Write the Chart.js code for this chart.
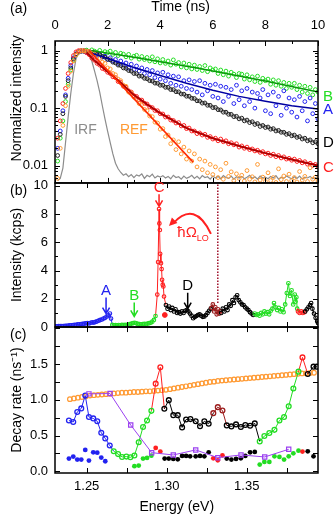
<!DOCTYPE html>
<html>
<head>
<meta charset="utf-8">
<script src="https://cdn.jsdelivr.net/npm/chart.js@4.4.1/dist/chart.umd.min.js"></script>
<style>
  html, body { margin: 0; padding: 0; background: #fff; }
  #wrap { position: relative; width: 335px; height: 516px; overflow: hidden; }
  .panel { position: absolute; left: 0; width: 335px; }
</style>
</head>
<body>
<div id="wrap">
  <div class="panel" style="top:0;height:190px"><canvas id="chartA"></canvas></div>
  <div class="panel" style="top:170px;height:170px"><canvas id="chartB"></canvas></div>
  <div class="panel" style="top:320px;height:196px"><canvas id="chartC"></canvas></div>
</div>
<script>
// ---- panel (a): time-resolved PL, normalized ----
const timeNs = [
  0.1,0.2,0.3,0.4,0.5,0.6,0.7,0.8,0.9,1.0,
  1.1,1.2,1.3,1.4,1.5,1.6,1.7,1.8,1.9,2.0,
  2.1,2.2,2.3,2.4,2.5,2.6,2.7,2.8,2.9,3.0,
  3.1,3.2,3.3,3.4,3.5,3.6,3.7,3.8,3.9,4.0,
  4.1,4.2,4.3,4.4,4.5,4.6,4.7,4.8,4.9,5.0,
  5.1,5.2,5.3,5.4,5.5,5.6,5.7,5.8,5.9,6.0,
  6.1,6.2,6.3,6.4,6.5,6.6,6.7,6.8,6.9,7.0,
  7.1,7.2,7.3,7.4,7.5,7.6,7.7,7.8,7.9,8.0,
  8.1,8.2,8.3,8.4,8.5,8.6,8.7,8.8,8.9,9.0,
  9.1,9.2,9.3,9.4,9.5,9.6,9.7,9.8,9.9,10.0
];
const decayA = [
  0.02,0.04,0.09,0.17,0.33,0.55,0.75,0.88,0.95,0.97,
  0.98,0.93,0.95,0.88,0.9,0.83,0.86,0.77,0.8,0.7,
  0.75,0.66,0.7,0.6,0.66,0.57,0.61,0.5,0.58,0.47,
  0.54,0.44,0.5,0.4,0.47,0.38,0.45,0.34,0.41,0.32,
  0.42,0.3,0.38,0.27,0.36,0.25,0.35,0.24,0.3,0.22,
  0.31,0.21,0.29,0.19,0.3,0.17,0.27,0.2,0.25,0.16,
  0.26,0.15,0.24,0.13,0.23,0.16,0.21,0.12,0.25,0.14,
  0.2,0.11,0.22,0.13,0.19,0.1,0.18,0.15,0.21,0.09,
  0.17,0.08,0.19,0.11,0.16,0.075,0.2,0.1,0.15,0.085,
  0.14,0.07,0.16,0.09,0.13,0.06,0.15,0.08,0.12,0.065
];
const decayB = [
  0.012,0.03,0.06,0.13,0.26,0.46,0.68,0.85,0.94,0.98,
  0.97,1.02,0.95,1.03,0.98,0.93,1.01,0.9,0.96,0.92,
  0.98,0.86,0.93,0.82,0.9,0.87,0.78,0.86,0.74,0.8,
  0.83,0.71,0.79,0.7,0.76,0.66,0.78,0.64,0.72,0.61,
  0.7,0.6,0.66,0.56,0.69,0.58,0.62,0.52,0.61,0.5,
  0.58,0.48,0.56,0.47,0.53,0.45,0.55,0.43,0.5,0.46,
  0.48,0.4,0.46,0.38,0.44,0.36,0.42,0.39,0.34,0.4,
  0.39,0.32,0.38,0.31,0.35,0.29,0.36,0.28,0.33,0.3,
  0.32,0.26,0.31,0.25,0.3,0.24,0.28,0.22,0.27,0.23,
  0.27,0.21,0.25,0.19,0.24,0.18,0.23,0.17,0.21,0.19
];
const decayC = [
  0.03,0.06,0.12,0.22,0.4,0.62,0.82,0.95,1.0,1.0,
  0.98,0.92,0.85,0.74,0.68,0.6,0.56,0.49,0.47,0.42,
  0.4,0.35,0.34,0.29,0.28,0.24,0.23,0.2,0.19,0.165,
  0.16,0.14,0.138,0.122,0.118,0.105,0.102,0.091,0.09,0.08,
  0.079,0.07,0.07,0.062,0.061,0.055,0.056,0.049,0.05,0.044,
  0.045,0.04,0.04,0.036,0.037,0.034,0.035,0.031,0.032,0.029,
  0.03,0.027,0.029,0.026,0.027,0.024,0.025,0.023,0.024,0.021,
  0.022,0.02,0.021,0.019,0.0195,0.018,0.0185,0.017,0.0175,0.016,
  0.0165,0.015,0.0158,0.0143,0.015,0.0136,0.0142,0.013,0.0134,0.0124,
  0.013,0.0118,0.0123,0.0112,0.0117,0.0106,0.011,0.0101,0.0105,0.0097
];
const decayD = [
  0.015,0.035,0.08,0.16,0.3,0.5,0.72,0.87,0.95,0.99,
  1.0,0.98,0.97,0.93,0.92,0.87,0.85,0.79,0.77,0.71,
  0.69,0.63,0.61,0.56,0.55,0.5,0.49,0.45,0.44,0.4,
  0.4,0.36,0.36,0.33,0.325,0.3,0.295,0.272,0.27,0.25,
  0.25,0.23,0.23,0.21,0.21,0.193,0.192,0.176,0.175,0.161,
  0.161,0.148,0.147,0.134,0.133,0.122,0.123,0.112,0.112,0.102,
  0.103,0.094,0.093,0.085,0.085,0.078,0.078,0.071,0.072,0.065,
  0.067,0.06,0.062,0.056,0.058,0.052,0.054,0.048,0.05,0.046,
  0.047,0.043,0.044,0.04,0.041,0.038,0.038,0.035,0.036,0.033,
  0.034,0.031,0.032,0.029,0.03,0.027,0.028,0.025,0.026,0.024
];
const decayRef = [
  0.006,0.02,0.05,0.11,0.24,0.44,0.66,0.84,0.94,0.99,
  1.0,0.98,0.97,0.9,0.88,0.78,0.74,0.63,0.6,0.5,
  0.48,0.4,0.38,0.32,0.3,0.25,0.24,0.19,0.185,0.155,
  0.145,0.12,0.115,0.095,0.09,0.073,0.071,0.057,0.055,0.043,
  0.044,0.032,0.034,0.024,0.028,0.019,0.026,0.016,0.021,0.013,
  0.018,0.012,0.016,0.0095,0.013,0.0085,0.012,0.0075,0.0105,0.007,
  0.0095,0.0062,0.0085,0.0058,0.011,0.0065,0.0078,0.0055,0.0072,0.006,
  0.0068,0.0054,0.0082,0.0058,0.0064,0.0052,0.0105,0.0056,0.0063,0.0053,
  0.0075,0.0055,0.0062,0.0051,0.0088,0.0057,0.0066,0.0053,0.0071,0.0055,
  0.0062,0.0052,0.0079,0.0056,0.0065,0.0053,0.0092,0.0058,0.0063,0.0054
];
const irf = [
  0.0055,0.006,0.009,0.025,0.07,0.18,0.4,0.72,0.92,0.99,
  1.0,0.96,0.85,0.66,0.45,0.3,0.19,0.11,0.065,0.04,
  0.025,0.016,0.011,0.0088,0.0076,0.0068,0.0072,0.0064,0.007,0.0062,
  0.0069,0.0066,0.0072,0.006,0.0068,0.0064,0.0071,0.0061,0.0066,0.0063,
  0.0067,0.0061,0.0065,0.0059,0.0068,0.0062,0.0064,0.0058,0.0066,0.006,
  0.0063,0.0068,0.006,0.0065,0.0059,0.0067,0.0062,0.0064,0.0058,0.0066,
  0.0061,0.0065,0.0059,0.0067,0.0062,0.006,0.0066,0.0058,0.0064,0.0061,
  0.0065,0.0059,0.0063,0.0068,0.006,0.0064,0.0058,0.0066,0.0061,0.0063,
  0.0059,0.0065,0.0061,0.0067,0.0058,0.0063,0.006,0.0066,0.0062,0.0059,
  0.0064,0.006,0.0066,0.0058,0.0063,0.0061,0.0065,0.0059,0.0062,0.006
];
// fitted curves
const fitATime = [1.4, 2, 3, 4, 5, 6, 7, 8, 9, 10];
const fitAVal = [0.9, 0.73, 0.51, 0.37, 0.27, 0.205, 0.16, 0.132, 0.11, 0.097];
const fitBTime = [1.4, 3, 5.5, 8, 10];
const fitBVal = [1.0, 0.77, 0.49, 0.295, 0.19];
const fitCTime = [1.2, 1.5, 2, 2.5, 3, 3.5, 4, 5, 6, 7, 8, 9, 10];
const fitCVal = [0.93, 0.67, 0.43, 0.275, 0.17, 0.116, 0.082, 0.045, 0.03, 0.022, 0.0165, 0.0128, 0.01];
const fitDTime = [1.2, 1.6, 2, 2.5, 3, 3.5, 4, 5, 6, 7, 8, 9, 10];
const fitDVal = [1.0, 0.88, 0.72, 0.54, 0.41, 0.32, 0.255, 0.165, 0.105, 0.067, 0.048, 0.034, 0.025];
const fitRefTime = [1.3, 5.25];
const fitRefVal = [1.0, 0.0115];

const timeTicks = [0, 2, 4, 6, 8, 10];
const timeMinorTicks = [1, 3, 5, 7, 9];
const intensityTicks = [0.01, 0.1, 1];
const intensityMinorTicks = [0.006, 0.007, 0.008, 0.009, 0.02, 0.03, 0.04, 0.05, 0.06, 0.07, 0.08, 0.09,
  0.2, 0.3, 0.4, 0.5, 0.6, 0.7, 0.8, 0.9];

// ---- panel (b): PL spectrum (kcps) ----
const specBlue = [[1.2305,0.05],[1.2315,0.05],[1.2325,0.06],[1.2335,0.06],[1.2345,0.07],[1.2355,0.07],
  [1.2365,0.08],[1.2375,0.09],[1.2385,0.1],[1.2395,0.11],[1.2405,0.12],[1.2415,0.13],[1.2425,0.15],
  [1.2435,0.16],[1.2445,0.18],[1.2455,0.19],[1.2465,0.21],[1.2475,0.22],[1.2485,0.24],[1.2495,0.26],
  [1.2505,0.27],[1.2515,0.25],[1.2525,0.3],[1.2535,0.33],[1.2545,0.31],[1.2555,0.36],[1.2565,0.4],
  [1.2575,0.45],[1.2585,0.5],[1.2595,0.53],[1.2605,0.6],[1.2615,0.65],[1.2625,0.74],[1.2635,0.83],
  [1.2645,0.95],[1.2652,0.6]];
const specGreenLow = [[1.266,0.15],[1.267,0.12],[1.268,0.13],[1.269,0.11],[1.27,0.14],[1.271,0.12],
  [1.272,0.15],[1.273,0.13],[1.274,0.16],[1.275,0.14],[1.276,0.17],[1.277,0.2],[1.278,0.24],[1.279,0.28],
  [1.28,0.3],[1.281,0.26],[1.282,0.22],[1.283,0.2],[1.284,0.18],[1.285,0.2],[1.286,0.22],[1.287,0.2],
  [1.288,0.24],[1.289,0.27],[1.29,0.3],[1.291,0.38],[1.292,0.5],[1.293,0.78]];
const specRedPeak = [[1.2941,2.3],[1.2946,4.6],[1.2952,8.36],[1.2954,7.34],[1.2957,6.87],[1.2959,5.18],
  [1.2964,4.52],[1.2968,4.1],[1.2971,3.34],[1.2975,3.0],[1.2979,2.87],[1.2983,2.16]];
const specBlackLow = [[1.2995,1.55],[1.3005,1.3],[1.3015,1.45],[1.3025,1.2],[1.3035,1.35],[1.3045,1.1],
  [1.3055,1.25],[1.3065,1.0],[1.3075,1.05],[1.3085,0.95],[1.3095,1.1],[1.3105,1.0],[1.3115,1.15],
  [1.3125,1.2],[1.3135,1.1],[1.3145,0.95],[1.3155,0.8],[1.3165,0.62],[1.3175,0.7],[1.3185,0.78],
  [1.3195,0.85],[1.3205,0.9],[1.3215,0.8],[1.3225,0.72],[1.3235,0.75],[1.3245,0.85],[1.3255,1.0],
  [1.3265,1.15],[1.3275,1.3]];
const specMaroon = [[1.328,1.35],[1.3288,1.6],[1.3296,1.1],[1.3304,1.4],[1.3312,0.9],[1.332,1.25],
  [1.3328,0.95],[1.3335,1.1]];
const specBlackMid = [[1.334,1.0],[1.335,1.3],[1.336,1.1],[1.337,1.4],[1.338,1.2],[1.339,1.6],[1.34,1.5],
  [1.341,1.9],[1.342,1.7],[1.343,2.1],[1.344,2.25],[1.345,1.9],[1.346,1.75],[1.347,1.6],[1.348,1.55],
  [1.349,1.4],[1.35,1.3],[1.351,1.2],[1.352,1.05],[1.353,0.95],[1.354,0.85]];
const specGreenHigh = [[1.355,0.95],[1.356,0.85],[1.357,0.9],[1.358,0.8],[1.359,1.0],[1.36,0.9],
  [1.361,1.1],[1.362,0.95],[1.363,1.05],[1.364,0.9],[1.365,1.15],[1.366,1.3],[1.367,1.7],[1.368,1.4],
  [1.369,1.2],[1.37,1.35],[1.371,1.1],[1.372,1.25],[1.373,1.05],[1.374,1.6],[1.375,2.4],[1.376,3.1],
  [1.377,2.2],[1.378,2.6],[1.379,1.6],[1.38,2.3],[1.3805,1.8],[1.381,2.1],[1.3815,1.3]];
const specRedHigh = [[1.382,1.1],[1.383,1.0],[1.384,1.1],[1.385,1.0],[1.386,1.05]];
const specBlackHigh = [[1.3865,1.1],[1.3875,1.25],[1.3885,1.4],[1.3895,1.55],[1.3902,1.7],[1.391,1.3],
  [1.392,0.95],[1.393,0.65],[1.394,0.4],[1.3945,0.28]];
const specRedDot = [[1.2988,0.85]];
const loPhononE = 1.3319;
const loPhononSpan = [1.7, 10.2];
const spectrumTicks = [0, 2, 4, 6, 8, 10];
const spectrumMinorTicks = [1, 3, 5, 7, 9];

// ---- panel (c): decay rates (ns^-1) ----
const rateRef = [[1.2395,1.01],[1.242,1.02],[1.2445,1.03],[1.247,1.04],[1.2495,1.05],[1.252,1.06],
  [1.2545,1.065],[1.257,1.07],[1.2595,1.075],[1.262,1.08],[1.2645,1.085],[1.267,1.09],[1.2695,1.095],
  [1.272,1.1],[1.2745,1.1],[1.277,1.105],[1.2795,1.11],[1.282,1.11],[1.2845,1.115],[1.287,1.12],
  [1.2895,1.12],[1.292,1.125],[1.2945,1.13],[1.297,1.135],[1.2995,1.14],[1.302,1.15],[1.3045,1.16],
  [1.307,1.17],[1.3095,1.18],[1.312,1.19],[1.3145,1.2],[1.317,1.21],[1.3195,1.22],[1.322,1.23],
  [1.3245,1.24],[1.327,1.25],[1.3295,1.255],[1.332,1.265],[1.3345,1.27],[1.337,1.275],[1.3395,1.28],
  [1.342,1.285],[1.3445,1.29],[1.347,1.295],[1.3495,1.3],[1.352,1.305],[1.3545,1.31],[1.357,1.315],
  [1.3595,1.32],[1.362,1.325],[1.3645,1.33],[1.367,1.335],[1.3695,1.34],[1.372,1.345],[1.3745,1.35],
  [1.377,1.355],[1.3795,1.36],[1.382,1.365],[1.3845,1.37],[1.387,1.372],[1.3895,1.376],[1.392,1.38]];
const rateFastBlue = [[1.2389,0.71],[1.2416,0.69],[1.2441,0.83],[1.2466,0.88],[1.2491,1.06],[1.2514,0.76],
  [1.2541,0.74],[1.2566,0.7],[1.2591,0.54],[1.2616,0.46],[1.2644,0.36]];
const rateFastGreenLow = [[1.2669,0.28],[1.2696,0.24],[1.2721,0.2],[1.2748,0.205],[1.2773,0.195],
  [1.2798,0.22],[1.2825,0.405],[1.2852,0.62],[1.2877,0.71],[1.2904,0.846]];
const rateFastRedLow = [[1.2931,1.227],[1.296,1.456]];
const rateFastBlackLow = [[1.2985,0.875],[1.3013,0.996],[1.3041,0.786],[1.3069,0.786],[1.3096,0.614],
  [1.3121,0.725],[1.3148,0.73],[1.3181,0.7],[1.3208,0.63],[1.3235,0.7],[1.3262,0.665]];
const rateFastMaroon = [[1.3291,0.814],[1.3319,0.898],[1.3348,0.851]];
const rateFastBlackMid = [[1.3375,0.642],[1.3404,0.628],[1.3433,0.656],[1.3463,0.62],[1.3491,0.647],
  [1.3521,0.637],[1.355,0.67]];
const rateFastGreenHigh = [[1.3581,0.418],[1.361,0.493],[1.3641,0.535],[1.3673,0.58],[1.3704,0.71],
  [1.3733,0.76],[1.3762,0.91],[1.3791,1.16],[1.3823,1.395]];
const rateFastRedHigh = [[1.3848,1.595]];
const rateFastBlackHigh = [[1.3881,1.363],[1.3917,1.465],[1.3937,1.465]];
const rateSlowBlue = [[1.2389,0.177],[1.2416,0.205],[1.2441,0.163],[1.2466,0.163],[1.2491,0.298],
  [1.2514,0.149],[1.2541,0.265],[1.2566,0.26],[1.2591,0.191],[1.2616,0.14]];
const rateSlowGreenLow = [[1.2798,0.07],[1.2825,0.079],[1.2852,0.177],[1.2877,0.186],[1.2904,0.218]];
const rateSlowRedLow = [[1.2931,0.326],[1.296,0.275]];
const rateSlowBlackLow = [[1.2987,0.177],[1.3013,0.177],[1.3041,0.172],[1.3069,0.167],[1.3096,0.214],
  [1.3121,0.214],[1.3146,0.209],[1.3181,0.209],[1.3208,0.214],[1.3235,0.209],[1.3262,0.265]];
const rateSlowRedMid = [[1.3291,0.181],[1.3319,0.153],[1.3348,0.223]];
const rateSlowBlackMid = [[1.3375,0.177],[1.3404,0.163],[1.3433,0.172],[1.3463,0.181],[1.3491,0.214],
  [1.3521,0.265],[1.355,0.27]];
const rateSlowGreenHigh = [[1.3581,0.093],[1.361,0.13],[1.3641,0.13],[1.3673,0.209],[1.3704,0.2],
  [1.3733,0.163],[1.3762,0.209],[1.3791,0.251],[1.3823,0.288]];
const rateSlowRedHigh = [[1.3848,0.275]];
const rateSlowBlackHigh = [[1.3881,0.279],[1.3917,0.209]];
const rateSingle = [[1.2514,1.084],[1.2646,1.088],[1.2775,0.647],[1.2906,0.26],[1.3041,0.228],
  [1.3181,0.298],[1.3319,0.19],[1.3464,0.228],[1.3612,0.2],[1.3762,0.307]];
const energyTicks = [1.25, 1.30, 1.35];
const energyMinorTicks = [1.25, 1.275, 1.30, 1.325, 1.35, 1.375];
const rateTicks = [0, 0.5, 1.0, 1.5];
const rateMinorTicks = [0, 0.25, 0.5, 0.75, 1.0, 1.25, 1.5, 1.75, 2.0];

const FONT = '"Liberation Sans", Arial, Helvetica, sans-serif';
const GREEN = '#22dd22', BLUE = '#2222f0', RED = '#ff2020', ORANGE = '#ff9a33', GRAY = '#8c8c8c';
const BLACK = '#000000', MAROON = '#9b1c1c', PURPLE = '#9b40f0';
const E_MIN = 1.2302, E_MAX = 1.3945;
const NB = '\u00a0';

Chart.defaults.font.family = FONT;
Chart.defaults.color = '#000';
Chart.defaults.animation = false;

const pts = (xs, ys) => xs.map((x, i) => ({ x, y: ys[i] }));

function sequence(segs, opts) {
  const data = [], cols = [];
  segs.forEach(([list, col]) => list.forEach(([x, y]) => { data.push({ x, y }); cols.push(col); }));
  return Object.assign({
    data,
    borderColor: cols[0],
    pointBorderColor: cols,
    pointBackgroundColor: 'rgba(0,0,0,0)',
    segment: { borderColor: ctx => (cols[ctx.p1DataIndex] === RED ? RED : cols[ctx.p0DataIndex]) }
  }, opts);
}

// inward tick marks and the frame
const frameTicks = {
  id: 'frameTicks',
  afterDatasetsDraw(chart, args, opts) {
    const { ctx, chartArea: a, scales } = chart;
    ctx.save();
    ctx.strokeStyle = '#000';
    ctx.lineWidth = 1;
    ctx.beginPath();
    (opts.x || []).forEach(([v, len]) => {
      const px = Math.round(scales.x.getPixelForValue(v)) + 0.5;
      ctx.moveTo(px, a.top); ctx.lineTo(px, a.top + len);
      ctx.moveTo(px, a.bottom); ctx.lineTo(px, a.bottom - len);
    });
    (opts.y || []).forEach(([v, len]) => {
      const py = Math.round(scales.y.getPixelForValue(v)) + 0.5;
      ctx.moveTo(a.left, py); ctx.lineTo(a.left + len, py);
      ctx.moveTo(a.right, py); ctx.lineTo(a.right - len, py);
    });
    ctx.stroke();
    ctx.lineWidth = 1.5;
    ctx.strokeRect(a.left, a.top, a.right - a.left, a.bottom - a.top);
    ctx.restore();
  }
};

const tickSet = (major, minor, lMaj, lMin) =>
  major.map(v => [v, lMaj]).concat(minor.map(v => [v, lMin]));

// y tick labels are single lines drawn centred on the tick; a tiny lineHeight keeps
// Chart.js from reserving extra room above/below the plot for them
const Y_TICK_FONT = { size: 13, lineHeight: 0.01 };

function leftAxis(extra) {
  return Object.assign({
    grid: { display: false, drawTicks: false },
    border: { display: false },
    ticks: { padding: 7, font: Y_TICK_FONT, autoSkip: false },
    afterFit: s => { s.width = 55; }
  }, extra);
}

const baseOptions = pad => ({
  responsive: true, maintainAspectRatio: false, devicePixelRatio: 1, events: [],
  layout: { autoPadding: false, padding: pad }
});

// ---------- chart (a) ----------
const endLabels = [['B', 0.158, GREEN], ['A', 0.093, BLUE], ['D', 0.0245, BLACK], ['C', 0.009, RED]];

new Chart(document.getElementById('chartA'), {
  type: 'scatter',
  data: {
    datasets: [
      { data: pts(fitRefTime, fitRefVal), showLine: true, borderColor: '#ff2a00', borderWidth: 1.5, pointRadius: 0, order: 0 },
      { data: pts(fitCTime, fitCVal), showLine: true, borderColor: '#b00000', borderWidth: 2, pointRadius: 0, order: 0 },
      { data: pts(fitATime, fitAVal), showLine: true, borderColor: '#0000a0', borderWidth: 1.5, pointRadius: 0, order: 0 },
      { data: pts(fitBTime, fitBVal), showLine: true, borderColor: '#0a9a0a', borderWidth: 1.5, pointRadius: 0, order: 0 },
      { data: pts(timeNs, decayRef), borderColor: ORANGE, order: 1 },
      { data: pts(timeNs, decayC), borderColor: RED, order: 1 },
      { data: pts(timeNs, decayD), borderColor: '#222', order: 1 },
      { data: pts(timeNs, decayA), borderColor: BLUE, order: 2 },
      { data: pts(timeNs, decayB), borderColor: GREEN, order: 2 },
      { data: pts(fitDTime, fitDVal), showLine: true, borderColor: '#b4b4b4', borderWidth: 3, pointRadius: 0, order: 3 },
      { data: pts(timeNs, irf), showLine: true, borderColor: GRAY, borderWidth: 1.2, pointRadius: 0, order: 4 }
    ].map(d => Object.assign({ pointRadius: 1.9, pointBorderWidth: 1, pointBackgroundColor: 'rgba(0,0,0,0)', clip: 0 }, d))
  },
  options: Object.assign(baseOptions({ left: 0, right: 17, top: 0, bottom: 7 }), {
    plugins: {
      legend: { display: false }, tooltip: { enabled: false },
      frameTicks: {
        x: tickSet(timeTicks, timeMinorTicks, 5, 3),
        y: tickSet(intensityTicks, intensityMinorTicks, 5, 3)
      }
    },
    scales: {
      x: {
        type: 'linear', position: 'top', min: 0, max: 10,
        grid: { display: false, drawTicks: false }, border: { display: false },
        ticks: { stepSize: 2, padding: 8, font: { size: 13 }, maxRotation: 0 },
        title: { display: true, text: 'Time (ns)' + NB.repeat(3), font: { size: 14, lineHeight: 1 }, padding: 0 },
        afterFit: s => { s.height = 41; }
      },
      y: leftAxis({
        type: 'logarithmic', min: 0.005, max: 1.47,
        afterBuildTicks: s => { s.ticks = intensityTicks.map(v => ({ value: v })); },
        ticks: { padding: 7, font: Y_TICK_FONT, autoSkip: false, callback: v => String(v) },
        title: { display: true, text: NB.repeat(7) + 'Normalized intensity', font: { size: 14 }, padding: { top: 9, bottom: 0 } }
      })
    }
  }),
  plugins: [frameTicks, {
    id: 'labelsA',
    afterDraw(chart) {
      const { ctx, chartArea: a, scales: { x, y } } = chart;
      ctx.save();
      ctx.textBaseline = 'middle';
      ctx.font = '14px ' + FONT;
      ctx.textAlign = 'center';
      ctx.fillStyle = GRAY;
      ctx.fillText('IRF', x.getPixelForValue(1.16), y.getPixelForValue(0.042));
      ctx.fillStyle = ORANGE;
      ctx.fillText('REF', x.getPixelForValue(3.0), y.getPixelForValue(0.042));
      ctx.font = '15px ' + FONT;
      ctx.textAlign = 'left';
      endLabels.forEach(([t, v, c]) => { ctx.fillStyle = c; ctx.fillText(t, a.right + 5, y.getPixelForValue(v)); });
      ctx.font = '14px ' + FONT;
      ctx.fillStyle = '#000';
      ctx.fillText('(a)', 10, 9);
      ctx.restore();
    }
  }]
});

// ---------- chart (b) ----------
const peakArrows = [['A', 1.2621, 0.95, 16, BLUE], ['B', 1.2797, 0.75, 14, GREEN], ['C', 1.2952, 8.55, 12, RED], ['D', 1.3131, 1.3, 16, BLACK]];

new Chart(document.getElementById('chartB'), {
  type: 'scatter',
  data: {
    datasets: [
      sequence([[specBlue, BLUE], [specGreenLow, GREEN], [specRedPeak, RED], [specBlackLow, BLACK],
        [specMaroon, MAROON], [specBlackMid, BLACK], [specGreenHigh, GREEN], [specRedHigh, RED],
        [specBlackHigh, BLACK]], { showLine: true, borderWidth: 1, pointRadius: 1.8, pointBorderWidth: 1.1 }),
      { data: specRedDot.map(([x, y]) => ({ x, y })), pointRadius: 2.4, pointBackgroundColor: RED, pointBorderColor: RED },
      { data: loPhononSpan.map(y => ({ x: loPhononE, y })), showLine: true, pointRadius: 0,
        borderColor: '#a0102a', borderWidth: 1.5, borderDash: [1.5, 1.5] }
    ]
  },
  options: Object.assign(baseOptions({ left: 0, right: 17, top: 13, bottom: 13 }), {
    plugins: {
      legend: { display: false }, tooltip: { enabled: false },
      frameTicks: {
        x: energyMinorTicks.map(v => [v, 5]),
        y: tickSet(spectrumTicks, spectrumMinorTicks, 5, 3)
      }
    },
    scales: {
      x: { type: 'linear', min: E_MIN, max: E_MAX, display: false },
      y: leftAxis({
        min: 0, max: 10.2,
        afterBuildTicks: s => { s.ticks = spectrumTicks.map(v => ({ value: v })); },
        title: { display: true, text: 'Intensity (kcps)', font: { size: 14 }, padding: { top: 9, bottom: 0 } }
      })
    }
  }),
  plugins: [frameTicks, {
    id: 'labelsB',
    afterDraw(chart) {
      const { ctx, scales: { x, y } } = chart;
      ctx.save();
      ctx.lineWidth = 1.5;
      ctx.font = '15px ' + FONT;
      ctx.textAlign = 'center';
      ctx.textBaseline = 'bottom';
      peakArrows.forEach(([t, e, v, len, c]) => {
        const px = x.getPixelForValue(e), tip = y.getPixelForValue(v);
        ctx.strokeStyle = c; ctx.fillStyle = c;
        ctx.beginPath();
        ctx.moveTo(px, tip - len); ctx.lineTo(px, tip);
        ctx.moveTo(px - 3.5, tip - 6); ctx.lineTo(px, tip); ctx.lineTo(px + 3.5, tip - 6);
        ctx.stroke();
        ctx.fillText(t, px, tip - len + 1);
      });
      // LO phonon energy shift
      ctx.fillStyle = RED; ctx.strokeStyle = RED;
      ctx.textAlign = 'left'; ctx.textBaseline = 'middle';
      const tx = x.getPixelForValue(1.3066), ty = y.getPixelForValue(6.65);
      ctx.font = '15px ' + FONT;
      ctx.fillText('ħΩ', tx, ty);
      const w = ctx.measureText('ħΩ').width;
      ctx.font = '9px ' + FONT;
      ctx.fillText('LO', tx + w, ty + 5);
      const sx = x.getPixelForValue(1.3276), sy = y.getPixelForValue(6.6);
      const ex = x.getPixelForValue(1.3014), ey = y.getPixelForValue(7.15);
      const cx = x.getPixelForValue(1.3175), cy = y.getPixelForValue(9.0);
      ctx.lineWidth = 2;
      ctx.beginPath(); ctx.moveTo(sx, sy); ctx.quadraticCurveTo(cx, cy, ex + 4, ey - 2.5); ctx.stroke();
      const ang = Math.atan2(ey - cy, ex - cx);
      ctx.beginPath();
      ctx.moveTo(ex, ey);
      ctx.lineTo(ex - 9 * Math.cos(ang - 0.45), ey - 9 * Math.sin(ang - 0.45));
      ctx.lineTo(ex - 9 * Math.cos(ang + 0.45), ey - 9 * Math.sin(ang + 0.45));
      ctx.closePath(); ctx.fill();
      ctx.font = '14px ' + FONT;
      ctx.fillStyle = '#000';
      ctx.fillText('(b)', 10, 21);
      ctx.restore();
    }
  }]
});

// ---------- chart (c) ----------
const slowSegs = [[rateSlowBlue, BLUE], [rateSlowGreenLow, GREEN], [rateSlowRedLow, RED], [rateSlowBlackLow, BLACK],
  [rateSlowRedMid, RED], [rateSlowBlackMid, BLACK], [rateSlowGreenHigh, GREEN], [rateSlowRedHigh, RED],
  [rateSlowBlackHigh, BLACK]];
const slowData = sequence(slowSegs, {});

new Chart(document.getElementById('chartC'), {
  type: 'scatter',
  data: {
    datasets: [
      { data: rateSingle.map(([x, y]) => ({ x, y })), showLine: true, borderColor: PURPLE, borderWidth: 1,
        pointStyle: 'rect', pointRadius: 3, pointBorderWidth: 1.2, pointBorderColor: PURPLE, pointBackgroundColor: 'rgba(0,0,0,0)' },
      sequence([[rateFastBlue, BLUE], [rateFastGreenLow, GREEN], [rateFastRedLow, RED], [rateFastBlackLow, BLACK],
        [rateFastMaroon, MAROON], [rateFastBlackMid, BLACK], [rateFastGreenHigh, GREEN], [rateFastRedHigh, RED],
        [rateFastBlackHigh, BLACK]], { showLine: true, borderWidth: 1, pointRadius: 2.4, pointBorderWidth: 1.3 }),
      { data: slowData.data, pointRadius: 2.4, pointBorderWidth: 0,
        pointBackgroundColor: slowData.pointBorderColor, pointBorderColor: slowData.pointBorderColor },
      { data: rateRef.map(([x, y]) => ({ x, y })), pointRadius: 2.3, pointBorderWidth: 1.2,
        pointBorderColor: ORANGE, pointBackgroundColor: 'rgba(0,0,0,0)' }
    ]
  },
  options: Object.assign(baseOptions({ left: 0, right: 17, top: 7, bottom: 0 }), {
    plugins: {
      legend: { display: false }, tooltip: { enabled: false },
      frameTicks: {
        x: energyMinorTicks.map(v => [v, 5]),
        y: rateMinorTicks.map(v => [v, 5])
      }
    },
    scales: {
      x: {
        type: 'linear', position: 'bottom', min: E_MIN, max: E_MAX,
        grid: { display: false, drawTicks: false }, border: { display: false },
        afterBuildTicks: s => { s.ticks = energyTicks.map(v => ({ value: v })); },
        ticks: { padding: 6, font: { size: 13 }, maxRotation: 0, autoSkip: false, callback: v => v.toFixed(2) },
        title: { display: true, text: 'Energy (eV)' + NB.repeat(5), font: { size: 14, lineHeight: 1 }, padding: { top: 0, bottom: 2 } },
        afterFit: s => { s.height = 43; }
      },
      y: leftAxis({
        min: -0.025, max: 2.02,
        afterBuildTicks: s => { s.ticks = rateTicks.map(v => ({ value: v })); },
        ticks: { padding: 7, font: Y_TICK_FONT, autoSkip: false, callback: v => v.toFixed(1) },
        title: { display: true, text: 'Decay rate (ns⁻¹)', font: { size: 14 }, padding: { top: 9, bottom: 0 } }
      })
    }
  }),
  plugins: [frameTicks, {
    id: 'labelsC',
    afterDraw(chart) {
      const { ctx } = chart;
      ctx.save();
      ctx.font = '14px ' + FONT;
      ctx.fillStyle = '#000';
      ctx.textBaseline = 'middle';
      ctx.fillText('(c)', 10, 15);
      ctx.restore();
    }
  }]
});
</script>
</body>
</html>
